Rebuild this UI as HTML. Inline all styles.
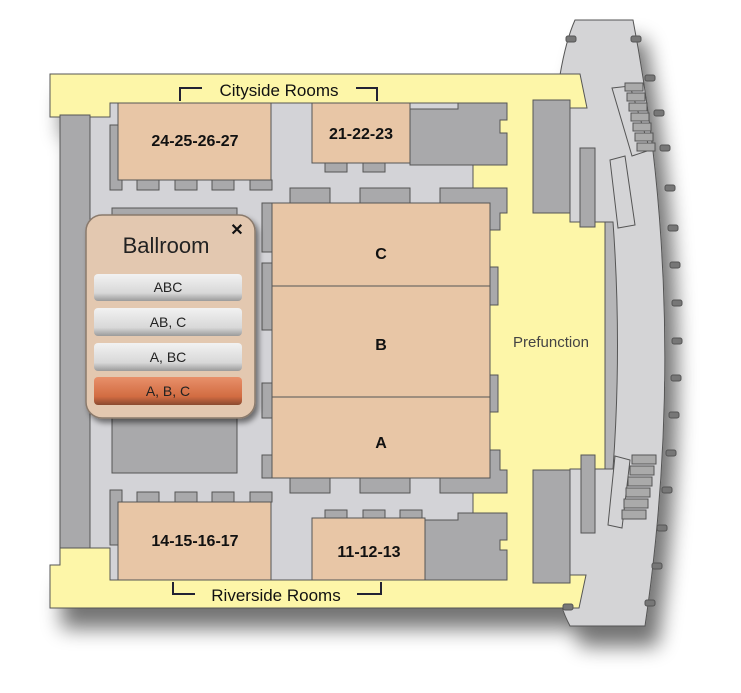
<!DOCTYPE html>
<html><head><meta charset="utf-8"><style>
html,body{margin:0;padding:0;background:#fff;width:741px;height:693px;overflow:hidden}
svg{display:block}
</style></head><body>
<svg width="741" height="693" viewBox="0 0 741 693" xmlns="http://www.w3.org/2000/svg" font-family="Liberation Sans, sans-serif">
<defs>
<filter id="sh" x="-10%" y="-10%" width="130%" height="130%"><feGaussianBlur in="SourceAlpha" stdDeviation="10"/><feOffset dx="12" dy="20"/><feComponentTransfer><feFuncA type="linear" slope="0.55"/></feComponentTransfer><feMerge><feMergeNode/><feMergeNode in="SourceGraphic"/></feMerge></filter>
<filter id="ps" x="-20%" y="-20%" width="140%" height="140%"><feGaussianBlur in="SourceAlpha" stdDeviation="3"/><feOffset dx="3" dy="4"/><feComponentTransfer><feFuncA type="linear" slope="0.5"/></feComponentTransfer><feMerge><feMergeNode/><feMergeNode in="SourceGraphic"/></feMerge></filter>
<linearGradient id="bt" x1="0" y1="0" x2="0" y2="1"><stop offset="0" stop-color="#f2f2f2"/><stop offset="0.7" stop-color="#d8d8d8"/><stop offset="1" stop-color="#9a9a9a"/></linearGradient>
<linearGradient id="bo" x1="0" y1="0" x2="0" y2="1"><stop offset="0" stop-color="#e8906a"/><stop offset="0.7" stop-color="#d26c42"/><stop offset="1" stop-color="#8a4a30"/></linearGradient>
</defs>
<g filter="url(#sh)" stroke="#555" stroke-width="1">
<path d="M575,20 L633,20 Q690,320 645,626 L570,626 Q556,600 560,580 L560,75 Q566,40 575,20 Z" fill="#d4d4d6"/>
<path d="M50,74 L580,74 L587,108 L570,108 L570,222 L605,222 L605,469 L570,469 L570,575 L586,575 L579,608 L50,608 L50,565 L60,565 L60,117 L50,117 Z" fill="#fdf6a8"/>
</g>
<g stroke="#555" stroke-width="1">
<path d="M90,117 L110,117 L110,103 L473,103 L473,580 L110,580 L110,548 L90,548 Z" fill="#d3d3d7"/>
<path d="M60,115 L90,115 L90,548 L60,548 Z" fill="#a9a9ab"/>
<path d="M605,222 L605,469 L613,469 Q622,345 613,222 Z" fill="#b5b5b7"/>
<rect x="533" y="100" width="37" height="113" fill="#a9a9ab"/>
<rect x="580" y="148" width="15" height="79" fill="#a9a9ab"/>
<rect x="533" y="470" width="37" height="113" fill="#a9a9ab"/>
<rect x="581" y="455" width="14" height="78" fill="#a9a9ab"/>
<path d="M612,88 L630,86 L650,150 L632,156 Z" fill="#d4d4d6"/>
<path d="M610,160 L625,156 L635,225 L618,228 Z" fill="#d4d4d6"/>
<path d="M608,525 L622,528 L630,460 L615,456 Z" fill="#d4d4d6"/>
<g fill="#aaa"><rect x="625" y="83" width="18" height="8"/><rect x="627" y="93" width="18" height="8"/><rect x="629" y="103" width="18" height="8"/><rect x="631" y="113" width="18" height="8"/><rect x="633" y="123" width="18" height="8"/><rect x="635" y="133" width="18" height="8"/><rect x="637" y="143" width="18" height="8"/>
<rect x="632" y="455" width="24" height="9"/><rect x="630" y="466" width="24" height="9"/><rect x="628" y="477" width="24" height="9"/><rect x="626" y="488" width="24" height="9"/><rect x="624" y="499" width="24" height="9"/><rect x="622" y="510" width="24" height="9"/></g>
<g fill="#777"><rect x="566" y="36" width="10" height="6" rx="2"/><rect x="631" y="36" width="10" height="6" rx="2"/><rect x="645" y="75" width="10" height="6" rx="2"/><rect x="654" y="110" width="10" height="6" rx="2"/><rect x="660" y="145" width="10" height="6" rx="2"/><rect x="665" y="185" width="10" height="6" rx="2"/><rect x="668" y="225" width="10" height="6" rx="2"/><rect x="670" y="262" width="10" height="6" rx="2"/><rect x="672" y="300" width="10" height="6" rx="2"/><rect x="672" y="338" width="10" height="6" rx="2"/><rect x="671" y="375" width="10" height="6" rx="2"/><rect x="669" y="412" width="10" height="6" rx="2"/><rect x="666" y="450" width="10" height="6" rx="2"/><rect x="662" y="487" width="10" height="6" rx="2"/><rect x="657" y="525" width="10" height="6" rx="2"/><rect x="652" y="563" width="10" height="6" rx="2"/><rect x="645" y="600" width="10" height="6" rx="2"/><rect x="563" y="604" width="10" height="6" rx="2"/></g>
<path d="M410,109 L458,109 L458,103 L507,103 L507,120 L500,120 L500,133 L507,133 L507,165 L410,165 Z" fill="#a9a9ab"/>
<path d="M425,520 L458,520 L458,513 L507,513 L507,540 L500,540 L500,550 L507,550 L507,580 L425,580 Z" fill="#a9a9ab"/>
<path d="M290,188 L330,188 L330,203 L290,203 Z" fill="#a9a9ab"/>
<path d="M360,188 L410,188 L410,203 L360,203 Z" fill="#a9a9ab"/>
<path d="M440,188 L507,188 L507,213 L500,213 L500,230 L480,230 L480,203 L440,203 Z" fill="#a9a9ab"/>
<path d="M262,203 L290,203 L290,240 L272,240 L272,252 L262,252 Z" fill="#a9a9ab"/>
<path d="M262,263 L280,263 L280,330 L262,330 Z" fill="#a9a9ab"/>
<path d="M262,383 L280,383 L280,418 L262,418 Z" fill="#a9a9ab"/>
<path d="M262,455 L290,455 L290,478 L262,478 Z" fill="#a9a9ab"/>
<path d="M290,478 L330,478 L330,493 L290,493 Z" fill="#a9a9ab"/>
<path d="M360,478 L410,478 L410,493 L360,493 Z" fill="#a9a9ab"/>
<path d="M440,493 L507,493 L507,470 L500,470 L500,450 L480,450 L480,478 L440,478 Z" fill="#a9a9ab"/>
<path d="M484,267 L498,267 L498,305 L484,305 Z" fill="#a9a9ab"/>
<path d="M484,375 L498,375 L498,412 L484,412 Z" fill="#a9a9ab"/>
<g fill="#a9a9ab"><rect x="110" y="125" width="12" height="65"/><rect x="137" y="180" width="22" height="10"/><rect x="175" y="180" width="22" height="10"/><rect x="212" y="180" width="22" height="10"/><rect x="250" y="180" width="22" height="10"/><rect x="325" y="163" width="22" height="9"/><rect x="363" y="163" width="22" height="9"/>
<rect x="110" y="490" width="12" height="55"/><rect x="137" y="492" width="22" height="10"/><rect x="175" y="492" width="22" height="10"/><rect x="212" y="492" width="22" height="10"/><rect x="250" y="492" width="22" height="10"/><rect x="325" y="510" width="22" height="9"/><rect x="363" y="510" width="22" height="9"/><rect x="400" y="510" width="22" height="9"/>
<rect x="112" y="418" width="125" height="55"/><rect x="112" y="208" width="125" height="20"/></g>
<path d="M272,203 L490,203 L490,478 L272,478 Z" fill="#e8c6a6"/>
<line x1="272" y1="286" x2="490" y2="286"/>
<line x1="272" y1="397" x2="490" y2="397"/>
<rect x="118" y="103" width="153" height="77" fill="#e8c6a6"/>
<rect x="312" y="103" width="98" height="60" fill="#e8c6a6"/>
<rect x="118" y="502" width="153" height="78" fill="#e8c6a6"/>
<rect x="312" y="518" width="113" height="62" fill="#e8c6a6"/>
</g>
<g font-weight="bold" fill="#111" text-anchor="middle" font-size="16">
<text x="195" y="146">24-25-26-27</text>
<text x="361" y="139">21-22-23</text>
<text x="195" y="546">14-15-16-17</text>
<text x="369" y="557">11-12-13</text>
<text x="381" y="259">C</text>
<text x="381" y="350">B</text>
<text x="381" y="448">A</text>
</g>
<text x="551" y="347" font-size="15" fill="#444" text-anchor="middle">Prefunction</text>
<g stroke="#223" stroke-width="2" fill="none">
<path d="M180,101 L180,88 L202,88"/><path d="M356,88 L377,88 L377,101"/>
<path d="M173,582 L173,594 L195,594"/><path d="M357,594 L381,594 L381,582"/>
</g>
<text x="279" y="96" font-size="17" fill="#111" text-anchor="middle">Cityside Rooms</text>
<text x="276" y="601" font-size="17" fill="#111" text-anchor="middle">Riverside Rooms</text>
<g filter="url(#ps)">
<rect x="86" y="215" width="169" height="203" rx="16" fill="#e3c8b0" stroke="#8a7a6c" stroke-width="1.5"/>
</g>
<text x="166" y="253" font-size="22" fill="#222" text-anchor="middle">Ballroom</text>
<text x="237" y="235" font-size="16" font-weight="bold" fill="#111" text-anchor="middle">✕</text>
<g font-size="14" fill="#222" text-anchor="middle">
<rect x="94" y="274" width="148" height="27" rx="4" fill="url(#bt)"/><text x="168" y="292">ABC</text>
<rect x="94" y="308" width="148" height="28" rx="4" fill="url(#bt)"/><text x="168" y="327">AB, C</text>
<rect x="94" y="343" width="148" height="28" rx="4" fill="url(#bt)"/><text x="168" y="362">A, BC</text>
<rect x="94" y="377" width="148" height="28" rx="4" fill="url(#bo)"/><text x="168" y="396">A, B, C</text>
</g>
</svg>
</body></html>
